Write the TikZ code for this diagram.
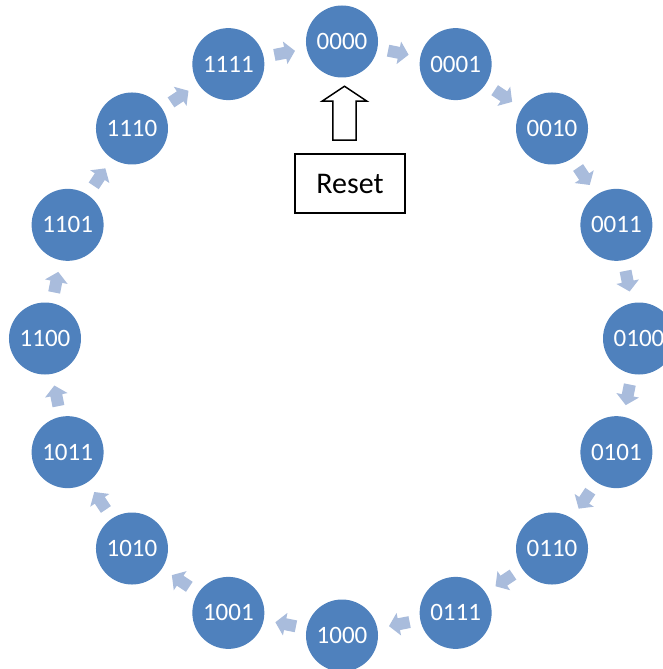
\documentclass[tikz,border=0pt]{standalone}
\usepackage{fontspec}
\setmainfont{Carlito}
\usepackage{tikz}
\usetikzlibrary{calc}

\definecolor{stateblue}{HTML}{4F81BD}
\definecolor{flowblue}{HTML}{A9BCDC}

\begin{document}
\begin{tikzpicture}[x=1pt, y=1pt,
    state/.style={circle, fill=stateblue, text=white, minimum size=36pt, inner sep=0pt, font=\fontsize{12.5}{14}\selectfont},
    flow/.style={fill=flowblue}]
    \useasboundingbox (-171,-165.25) rectangle (160.5,169.25);
    % States
    \foreach \lbl [count=\k from 0] in {0000,0001,0010,0011,0100,0101,0110,0111,1000,1001,1010,1011,1100,1101,1110,1111} {
        \node (s\k) [state] at ({90-22.5*\k}:148.5) {\lbl};
    }
    % Arrows
    \foreach \k in {0,...,15} {
        \pgfmathtruncatemacro{\nxt}{mod(\k+1,16)}
        \pgfmathsetmacro{\ang}{-22.5*\k-11.25}
        \fill[flow, shift={($(s\k)!0.5!(s\nxt)$)}, rotate=\ang]
            (-5.5,-3) -- (0,-3) -- (0,-5.75) -- (5,0) -- (0,5.75) -- (0,3) -- (-5.5,3) -- cycle;
    }
    % Reset
    \node (reset) [draw, line width=0.75pt, minimum width=55pt, minimum height=29.5pt, font=\fontsize{15}{18}\selectfont] at (4,77.5) {Reset};
    \coordinate (rst) at ($(reset.north)+(-2.75,6.5)$);
    \draw[line width=0.75pt, fill=white, shift={(rst)}]
        (-5.75,0) -- (-5.75,19.5) -- (-11.25,19.5) -- (0,27) -- (11.25,19.5) -- (5.75,19.5) -- (5.75,0) -- cycle;
\end{tikzpicture}
\end{document}
